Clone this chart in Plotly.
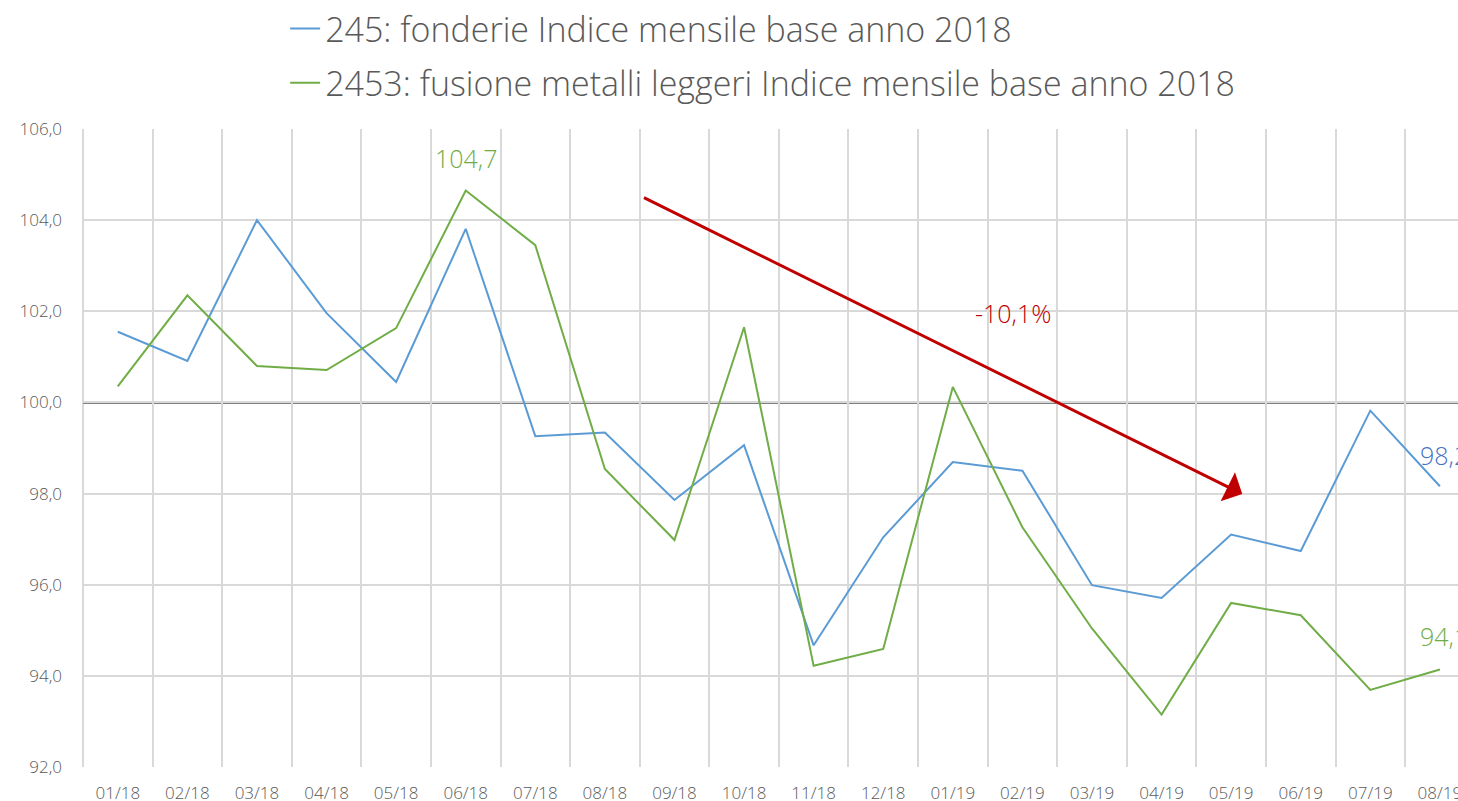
import plotly.graph_objects as go

months = ["01/18", "02/18", "03/18", "04/18", "05/18", "06/18", "07/18", "08/18", "09/18", "10/18",
          "11/18", "12/18", "01/19", "02/19", "03/19", "04/19", "05/19", "06/19", "07/19", "08/19"]
fonderie = [101.55, 100.91, 104.0, 101.96, 100.45, 103.81, 99.26, 99.34, 97.86, 99.06,
            94.67, 97.04, 98.69, 98.50, 95.99, 95.71, 97.10, 96.74, 99.82, 98.16]
fusione = [100.35, 102.35, 100.80, 100.71, 101.63, 104.65, 103.45, 98.54, 96.98, 101.65,
           94.22, 94.59, 100.34, 97.26, 95.04, 93.15, 95.60, 95.33, 93.69, 94.14]
name_fonderie = "245: fonderie Indice mensile base anno 2018"
name_fusione = "2453: fusione metalli leggeri Indice mensile base anno 2018"
trend_label = "-10,1%"

FONT = "'Open Sans', Lato, sans-serif"
BLUE = "#5b9bd5"
GREEN = "#70ad47"
RED = "#c00000"
GREY = "#595959"
GRID = "#d9d9d9"

fig = go.Figure()
fig.add_trace(go.Scatter(x=months, y=fonderie, mode="lines", name=name_fonderie,
                         line=dict(color=BLUE, width=2), legendgroup="a"))
fig.add_trace(go.Scatter(x=months, y=fusione, mode="lines", name=name_fusione,
                         line=dict(color=GREEN, width=2), legendgroup="b"))

# left border of the plot area and the base-100 reference line
fig.add_shape(type="line", xref="paper", x0=0, x1=0, yref="paper", y0=0, y1=1,
              line=dict(color=GRID, width=2), layer="between")
fig.add_shape(type="line", xref="paper", x0=0, x1=1, yref="y", y0=100, y1=100,
              line=dict(color="#808080", width=3), layer="between")

i_max = fusione.index(max(fusione))
lab = dict(family=FONT, size=25, weight=300)
annotations = [
    dict(x=i_max, y=105.36, xref="x", yref="y", showarrow=False,
         text=f"{max(fusione):.1f}".replace(".", ","), font=dict(color=GREEN, **lab)),
    dict(x=18.68, y=98.85, xref="x", yref="y", showarrow=False, xanchor="left",
         text=f"{fonderie[-1]:.1f}".replace(".", ","), font=dict(color="#4472c4", **lab)),
    dict(x=18.68, y=94.87, xref="x", yref="y", showarrow=False, xanchor="left",
         text=f"{fusione[-1]:.1f}".replace(".", ","), font=dict(color=GREEN, **lab)),
    dict(x=16.16, y=97.99, ax=7.54, ay=104.51, xref="x", yref="y", axref="x", ayref="y",
         showarrow=True, arrowhead=1, arrowsize=1.8, arrowwidth=3, arrowcolor=RED, text=""),
    dict(x=12.86, y=101.96, xref="x", yref="y", showarrow=False,
         text=trend_label, font=dict(color=RED, family=FONT, size=25, weight=300)),
]

fig.update_layout(
    width=1458, height=801,
    margin=dict(l=83, r=0, t=129, b=34),
    paper_bgcolor="white", plot_bgcolor="white",
    separators=",.",
    font=dict(family=FONT, color=GREY),
    showlegend=True,
    legend=dict(x=0.147, y=1.017, yref="container", xanchor="left", yanchor="top",
                orientation="v",
                font=dict(size=34, color=GREY, family=FONT, weight=300), tracegroupgap=7,
                bgcolor="rgba(0,0,0,0)"),
    annotations=annotations,
    xaxis=dict(type="category", range=[-0.5, 19.26], tickson="boundaries",
               showgrid=True, gridcolor=GRID, gridwidth=2, ticks="",
               tickfont=dict(size=17, color=GREY, family=FONT, weight=300), showline=False,
               zeroline=False, automargin=False, ticklabelstandoff=14),
    yaxis=dict(range=[92, 106], dtick=2, tickformat=".1f", showgrid=True,
               gridcolor=GRID, gridwidth=2, zeroline=False, showline=False,
               tickfont=dict(size=17, color=GREY, family=FONT, weight=300), automargin=False,
               ticklabelstandoff=20),
)

fig.write_html("out.html", config={"displayModeBar": False},
               post_script="document.body.style.margin='0px';document.body.style.overflow='hidden';")
